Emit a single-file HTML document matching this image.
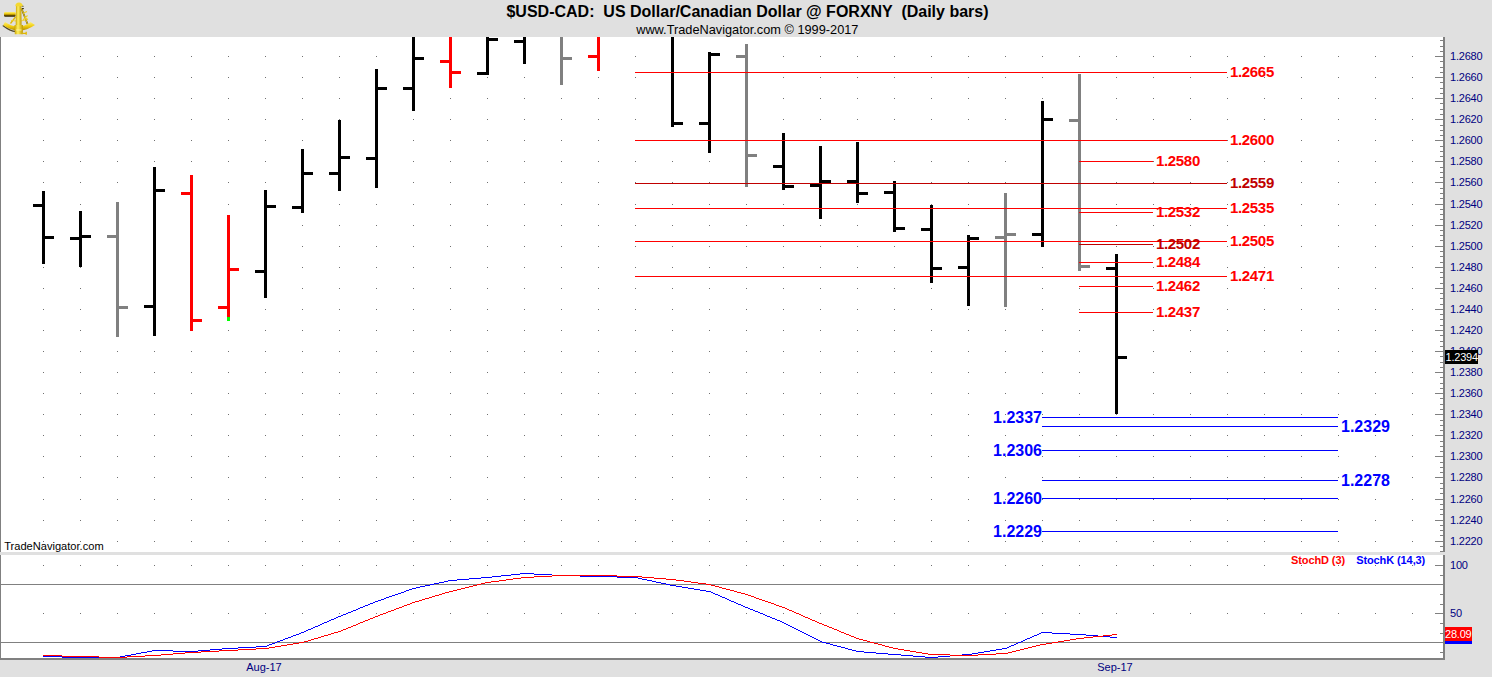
<!DOCTYPE html>
<html><head><meta charset="utf-8"><title>$USD-CAD Daily bars</title>
<style>
html,body{margin:0;padding:0;background:#e0e0e0;overflow:hidden;width:1492px;height:677px;}
svg{display:block;font-family:'Liberation Sans', sans-serif;}
</style></head>
<body>
<svg width="1492" height="677" viewBox="0 0 1492 677" shape-rendering="crispEdges">
<defs><clipPath id="mainclip"><rect x="0" y="37" width="1443" height="515"/></clipPath></defs>
<rect x="0" y="0" width="1492" height="677" fill="#e0e0e0"/>
<rect x="1" y="37" width="1442" height="515" fill="#ffffff"/>
<rect x="0" y="37" width="1" height="515" fill="#808080"/>
<rect x="1" y="555" width="1442" height="103" fill="#ffffff"/>
<rect x="0" y="555" width="1" height="105" fill="#808080"/>
<rect x="0" y="658" width="1445" height="2" fill="#808080"/>
<rect x="1443" y="37" width="2" height="515" fill="#808080"/>
<rect x="1443" y="555" width="2" height="105" fill="#808080"/>
<path d="M43 56h1v1h-1zM80 56h1v1h-1zM117 56h1v1h-1zM154 56h1v1h-1zM191 56h1v1h-1zM228 56h1v1h-1zM265 56h1v1h-1zM302 56h1v1h-1zM339 56h1v1h-1zM376 56h1v1h-1zM413 56h1v1h-1zM450 56h1v1h-1zM487 56h1v1h-1zM524 56h1v1h-1zM561 56h1v1h-1zM598 56h1v1h-1zM635 56h1v1h-1zM672 56h1v1h-1zM709 56h1v1h-1zM746 56h1v1h-1zM783 56h1v1h-1zM820 56h1v1h-1zM857 56h1v1h-1zM894 56h1v1h-1zM931 56h1v1h-1zM968 56h1v1h-1zM1005 56h1v1h-1zM1042 56h1v1h-1zM1079 56h1v1h-1zM1116 56h1v1h-1zM1153 56h1v1h-1zM1190 56h1v1h-1zM1227 56h1v1h-1zM1264 56h1v1h-1zM1301 56h1v1h-1zM1338 56h1v1h-1zM1375 56h1v1h-1zM1412 56h1v1h-1zM43 77h1v1h-1zM80 77h1v1h-1zM117 77h1v1h-1zM154 77h1v1h-1zM191 77h1v1h-1zM228 77h1v1h-1zM265 77h1v1h-1zM302 77h1v1h-1zM339 77h1v1h-1zM376 77h1v1h-1zM413 77h1v1h-1zM450 77h1v1h-1zM487 77h1v1h-1zM524 77h1v1h-1zM561 77h1v1h-1zM598 77h1v1h-1zM635 77h1v1h-1zM672 77h1v1h-1zM709 77h1v1h-1zM746 77h1v1h-1zM783 77h1v1h-1zM820 77h1v1h-1zM857 77h1v1h-1zM894 77h1v1h-1zM931 77h1v1h-1zM968 77h1v1h-1zM1005 77h1v1h-1zM1042 77h1v1h-1zM1079 77h1v1h-1zM1116 77h1v1h-1zM1153 77h1v1h-1zM1190 77h1v1h-1zM1227 77h1v1h-1zM1264 77h1v1h-1zM1301 77h1v1h-1zM1338 77h1v1h-1zM1375 77h1v1h-1zM1412 77h1v1h-1zM43 98h1v1h-1zM80 98h1v1h-1zM117 98h1v1h-1zM154 98h1v1h-1zM191 98h1v1h-1zM228 98h1v1h-1zM265 98h1v1h-1zM302 98h1v1h-1zM339 98h1v1h-1zM376 98h1v1h-1zM413 98h1v1h-1zM450 98h1v1h-1zM487 98h1v1h-1zM524 98h1v1h-1zM561 98h1v1h-1zM598 98h1v1h-1zM635 98h1v1h-1zM672 98h1v1h-1zM709 98h1v1h-1zM746 98h1v1h-1zM783 98h1v1h-1zM820 98h1v1h-1zM857 98h1v1h-1zM894 98h1v1h-1zM931 98h1v1h-1zM968 98h1v1h-1zM1005 98h1v1h-1zM1042 98h1v1h-1zM1079 98h1v1h-1zM1116 98h1v1h-1zM1153 98h1v1h-1zM1190 98h1v1h-1zM1227 98h1v1h-1zM1264 98h1v1h-1zM1301 98h1v1h-1zM1338 98h1v1h-1zM1375 98h1v1h-1zM1412 98h1v1h-1zM43 119h1v1h-1zM80 119h1v1h-1zM117 119h1v1h-1zM154 119h1v1h-1zM191 119h1v1h-1zM228 119h1v1h-1zM265 119h1v1h-1zM302 119h1v1h-1zM339 119h1v1h-1zM376 119h1v1h-1zM413 119h1v1h-1zM450 119h1v1h-1zM487 119h1v1h-1zM524 119h1v1h-1zM561 119h1v1h-1zM598 119h1v1h-1zM635 119h1v1h-1zM672 119h1v1h-1zM709 119h1v1h-1zM746 119h1v1h-1zM783 119h1v1h-1zM820 119h1v1h-1zM857 119h1v1h-1zM894 119h1v1h-1zM931 119h1v1h-1zM968 119h1v1h-1zM1005 119h1v1h-1zM1042 119h1v1h-1zM1079 119h1v1h-1zM1116 119h1v1h-1zM1153 119h1v1h-1zM1190 119h1v1h-1zM1227 119h1v1h-1zM1264 119h1v1h-1zM1301 119h1v1h-1zM1338 119h1v1h-1zM1375 119h1v1h-1zM1412 119h1v1h-1zM43 140h1v1h-1zM80 140h1v1h-1zM117 140h1v1h-1zM154 140h1v1h-1zM191 140h1v1h-1zM228 140h1v1h-1zM265 140h1v1h-1zM302 140h1v1h-1zM339 140h1v1h-1zM376 140h1v1h-1zM413 140h1v1h-1zM450 140h1v1h-1zM487 140h1v1h-1zM524 140h1v1h-1zM561 140h1v1h-1zM598 140h1v1h-1zM635 140h1v1h-1zM672 140h1v1h-1zM709 140h1v1h-1zM746 140h1v1h-1zM783 140h1v1h-1zM820 140h1v1h-1zM857 140h1v1h-1zM894 140h1v1h-1zM931 140h1v1h-1zM968 140h1v1h-1zM1005 140h1v1h-1zM1042 140h1v1h-1zM1079 140h1v1h-1zM1116 140h1v1h-1zM1153 140h1v1h-1zM1190 140h1v1h-1zM1227 140h1v1h-1zM1264 140h1v1h-1zM1301 140h1v1h-1zM1338 140h1v1h-1zM1375 140h1v1h-1zM1412 140h1v1h-1zM43 161h1v1h-1zM80 161h1v1h-1zM117 161h1v1h-1zM154 161h1v1h-1zM191 161h1v1h-1zM228 161h1v1h-1zM265 161h1v1h-1zM302 161h1v1h-1zM339 161h1v1h-1zM376 161h1v1h-1zM413 161h1v1h-1zM450 161h1v1h-1zM487 161h1v1h-1zM524 161h1v1h-1zM561 161h1v1h-1zM598 161h1v1h-1zM635 161h1v1h-1zM672 161h1v1h-1zM709 161h1v1h-1zM746 161h1v1h-1zM783 161h1v1h-1zM820 161h1v1h-1zM857 161h1v1h-1zM894 161h1v1h-1zM931 161h1v1h-1zM968 161h1v1h-1zM1005 161h1v1h-1zM1042 161h1v1h-1zM1079 161h1v1h-1zM1116 161h1v1h-1zM1153 161h1v1h-1zM1190 161h1v1h-1zM1227 161h1v1h-1zM1264 161h1v1h-1zM1301 161h1v1h-1zM1338 161h1v1h-1zM1375 161h1v1h-1zM1412 161h1v1h-1zM43 182h1v1h-1zM80 182h1v1h-1zM117 182h1v1h-1zM154 182h1v1h-1zM191 182h1v1h-1zM228 182h1v1h-1zM265 182h1v1h-1zM302 182h1v1h-1zM339 182h1v1h-1zM376 182h1v1h-1zM413 182h1v1h-1zM450 182h1v1h-1zM487 182h1v1h-1zM524 182h1v1h-1zM561 182h1v1h-1zM598 182h1v1h-1zM635 182h1v1h-1zM672 182h1v1h-1zM709 182h1v1h-1zM746 182h1v1h-1zM783 182h1v1h-1zM820 182h1v1h-1zM857 182h1v1h-1zM894 182h1v1h-1zM931 182h1v1h-1zM968 182h1v1h-1zM1005 182h1v1h-1zM1042 182h1v1h-1zM1079 182h1v1h-1zM1116 182h1v1h-1zM1153 182h1v1h-1zM1190 182h1v1h-1zM1227 182h1v1h-1zM1264 182h1v1h-1zM1301 182h1v1h-1zM1338 182h1v1h-1zM1375 182h1v1h-1zM1412 182h1v1h-1zM43 204h1v1h-1zM80 204h1v1h-1zM117 204h1v1h-1zM154 204h1v1h-1zM191 204h1v1h-1zM228 204h1v1h-1zM265 204h1v1h-1zM302 204h1v1h-1zM339 204h1v1h-1zM376 204h1v1h-1zM413 204h1v1h-1zM450 204h1v1h-1zM487 204h1v1h-1zM524 204h1v1h-1zM561 204h1v1h-1zM598 204h1v1h-1zM635 204h1v1h-1zM672 204h1v1h-1zM709 204h1v1h-1zM746 204h1v1h-1zM783 204h1v1h-1zM820 204h1v1h-1zM857 204h1v1h-1zM894 204h1v1h-1zM931 204h1v1h-1zM968 204h1v1h-1zM1005 204h1v1h-1zM1042 204h1v1h-1zM1079 204h1v1h-1zM1116 204h1v1h-1zM1153 204h1v1h-1zM1190 204h1v1h-1zM1227 204h1v1h-1zM1264 204h1v1h-1zM1301 204h1v1h-1zM1338 204h1v1h-1zM1375 204h1v1h-1zM1412 204h1v1h-1zM43 225h1v1h-1zM80 225h1v1h-1zM117 225h1v1h-1zM154 225h1v1h-1zM191 225h1v1h-1zM228 225h1v1h-1zM265 225h1v1h-1zM302 225h1v1h-1zM339 225h1v1h-1zM376 225h1v1h-1zM413 225h1v1h-1zM450 225h1v1h-1zM487 225h1v1h-1zM524 225h1v1h-1zM561 225h1v1h-1zM598 225h1v1h-1zM635 225h1v1h-1zM672 225h1v1h-1zM709 225h1v1h-1zM746 225h1v1h-1zM783 225h1v1h-1zM820 225h1v1h-1zM857 225h1v1h-1zM894 225h1v1h-1zM931 225h1v1h-1zM968 225h1v1h-1zM1005 225h1v1h-1zM1042 225h1v1h-1zM1079 225h1v1h-1zM1116 225h1v1h-1zM1153 225h1v1h-1zM1190 225h1v1h-1zM1227 225h1v1h-1zM1264 225h1v1h-1zM1301 225h1v1h-1zM1338 225h1v1h-1zM1375 225h1v1h-1zM1412 225h1v1h-1zM43 246h1v1h-1zM80 246h1v1h-1zM117 246h1v1h-1zM154 246h1v1h-1zM191 246h1v1h-1zM228 246h1v1h-1zM265 246h1v1h-1zM302 246h1v1h-1zM339 246h1v1h-1zM376 246h1v1h-1zM413 246h1v1h-1zM450 246h1v1h-1zM487 246h1v1h-1zM524 246h1v1h-1zM561 246h1v1h-1zM598 246h1v1h-1zM635 246h1v1h-1zM672 246h1v1h-1zM709 246h1v1h-1zM746 246h1v1h-1zM783 246h1v1h-1zM820 246h1v1h-1zM857 246h1v1h-1zM894 246h1v1h-1zM931 246h1v1h-1zM968 246h1v1h-1zM1005 246h1v1h-1zM1042 246h1v1h-1zM1079 246h1v1h-1zM1116 246h1v1h-1zM1153 246h1v1h-1zM1190 246h1v1h-1zM1227 246h1v1h-1zM1264 246h1v1h-1zM1301 246h1v1h-1zM1338 246h1v1h-1zM1375 246h1v1h-1zM1412 246h1v1h-1zM43 267h1v1h-1zM80 267h1v1h-1zM117 267h1v1h-1zM154 267h1v1h-1zM191 267h1v1h-1zM228 267h1v1h-1zM265 267h1v1h-1zM302 267h1v1h-1zM339 267h1v1h-1zM376 267h1v1h-1zM413 267h1v1h-1zM450 267h1v1h-1zM487 267h1v1h-1zM524 267h1v1h-1zM561 267h1v1h-1zM598 267h1v1h-1zM635 267h1v1h-1zM672 267h1v1h-1zM709 267h1v1h-1zM746 267h1v1h-1zM783 267h1v1h-1zM820 267h1v1h-1zM857 267h1v1h-1zM894 267h1v1h-1zM931 267h1v1h-1zM968 267h1v1h-1zM1005 267h1v1h-1zM1042 267h1v1h-1zM1079 267h1v1h-1zM1116 267h1v1h-1zM1153 267h1v1h-1zM1190 267h1v1h-1zM1227 267h1v1h-1zM1264 267h1v1h-1zM1301 267h1v1h-1zM1338 267h1v1h-1zM1375 267h1v1h-1zM1412 267h1v1h-1zM43 288h1v1h-1zM80 288h1v1h-1zM117 288h1v1h-1zM154 288h1v1h-1zM191 288h1v1h-1zM228 288h1v1h-1zM265 288h1v1h-1zM302 288h1v1h-1zM339 288h1v1h-1zM376 288h1v1h-1zM413 288h1v1h-1zM450 288h1v1h-1zM487 288h1v1h-1zM524 288h1v1h-1zM561 288h1v1h-1zM598 288h1v1h-1zM635 288h1v1h-1zM672 288h1v1h-1zM709 288h1v1h-1zM746 288h1v1h-1zM783 288h1v1h-1zM820 288h1v1h-1zM857 288h1v1h-1zM894 288h1v1h-1zM931 288h1v1h-1zM968 288h1v1h-1zM1005 288h1v1h-1zM1042 288h1v1h-1zM1079 288h1v1h-1zM1116 288h1v1h-1zM1153 288h1v1h-1zM1190 288h1v1h-1zM1227 288h1v1h-1zM1264 288h1v1h-1zM1301 288h1v1h-1zM1338 288h1v1h-1zM1375 288h1v1h-1zM1412 288h1v1h-1zM43 309h1v1h-1zM80 309h1v1h-1zM117 309h1v1h-1zM154 309h1v1h-1zM191 309h1v1h-1zM228 309h1v1h-1zM265 309h1v1h-1zM302 309h1v1h-1zM339 309h1v1h-1zM376 309h1v1h-1zM413 309h1v1h-1zM450 309h1v1h-1zM487 309h1v1h-1zM524 309h1v1h-1zM561 309h1v1h-1zM598 309h1v1h-1zM635 309h1v1h-1zM672 309h1v1h-1zM709 309h1v1h-1zM746 309h1v1h-1zM783 309h1v1h-1zM820 309h1v1h-1zM857 309h1v1h-1zM894 309h1v1h-1zM931 309h1v1h-1zM968 309h1v1h-1zM1005 309h1v1h-1zM1042 309h1v1h-1zM1079 309h1v1h-1zM1116 309h1v1h-1zM1153 309h1v1h-1zM1190 309h1v1h-1zM1227 309h1v1h-1zM1264 309h1v1h-1zM1301 309h1v1h-1zM1338 309h1v1h-1zM1375 309h1v1h-1zM1412 309h1v1h-1zM43 330h1v1h-1zM80 330h1v1h-1zM117 330h1v1h-1zM154 330h1v1h-1zM191 330h1v1h-1zM228 330h1v1h-1zM265 330h1v1h-1zM302 330h1v1h-1zM339 330h1v1h-1zM376 330h1v1h-1zM413 330h1v1h-1zM450 330h1v1h-1zM487 330h1v1h-1zM524 330h1v1h-1zM561 330h1v1h-1zM598 330h1v1h-1zM635 330h1v1h-1zM672 330h1v1h-1zM709 330h1v1h-1zM746 330h1v1h-1zM783 330h1v1h-1zM820 330h1v1h-1zM857 330h1v1h-1zM894 330h1v1h-1zM931 330h1v1h-1zM968 330h1v1h-1zM1005 330h1v1h-1zM1042 330h1v1h-1zM1079 330h1v1h-1zM1116 330h1v1h-1zM1153 330h1v1h-1zM1190 330h1v1h-1zM1227 330h1v1h-1zM1264 330h1v1h-1zM1301 330h1v1h-1zM1338 330h1v1h-1zM1375 330h1v1h-1zM1412 330h1v1h-1zM43 351h1v1h-1zM80 351h1v1h-1zM117 351h1v1h-1zM154 351h1v1h-1zM191 351h1v1h-1zM228 351h1v1h-1zM265 351h1v1h-1zM302 351h1v1h-1zM339 351h1v1h-1zM376 351h1v1h-1zM413 351h1v1h-1zM450 351h1v1h-1zM487 351h1v1h-1zM524 351h1v1h-1zM561 351h1v1h-1zM598 351h1v1h-1zM635 351h1v1h-1zM672 351h1v1h-1zM709 351h1v1h-1zM746 351h1v1h-1zM783 351h1v1h-1zM820 351h1v1h-1zM857 351h1v1h-1zM894 351h1v1h-1zM931 351h1v1h-1zM968 351h1v1h-1zM1005 351h1v1h-1zM1042 351h1v1h-1zM1079 351h1v1h-1zM1116 351h1v1h-1zM1153 351h1v1h-1zM1190 351h1v1h-1zM1227 351h1v1h-1zM1264 351h1v1h-1zM1301 351h1v1h-1zM1338 351h1v1h-1zM1375 351h1v1h-1zM1412 351h1v1h-1zM43 372h1v1h-1zM80 372h1v1h-1zM117 372h1v1h-1zM154 372h1v1h-1zM191 372h1v1h-1zM228 372h1v1h-1zM265 372h1v1h-1zM302 372h1v1h-1zM339 372h1v1h-1zM376 372h1v1h-1zM413 372h1v1h-1zM450 372h1v1h-1zM487 372h1v1h-1zM524 372h1v1h-1zM561 372h1v1h-1zM598 372h1v1h-1zM635 372h1v1h-1zM672 372h1v1h-1zM709 372h1v1h-1zM746 372h1v1h-1zM783 372h1v1h-1zM820 372h1v1h-1zM857 372h1v1h-1zM894 372h1v1h-1zM931 372h1v1h-1zM968 372h1v1h-1zM1005 372h1v1h-1zM1042 372h1v1h-1zM1079 372h1v1h-1zM1116 372h1v1h-1zM1153 372h1v1h-1zM1190 372h1v1h-1zM1227 372h1v1h-1zM1264 372h1v1h-1zM1301 372h1v1h-1zM1338 372h1v1h-1zM1375 372h1v1h-1zM1412 372h1v1h-1zM43 393h1v1h-1zM80 393h1v1h-1zM117 393h1v1h-1zM154 393h1v1h-1zM191 393h1v1h-1zM228 393h1v1h-1zM265 393h1v1h-1zM302 393h1v1h-1zM339 393h1v1h-1zM376 393h1v1h-1zM413 393h1v1h-1zM450 393h1v1h-1zM487 393h1v1h-1zM524 393h1v1h-1zM561 393h1v1h-1zM598 393h1v1h-1zM635 393h1v1h-1zM672 393h1v1h-1zM709 393h1v1h-1zM746 393h1v1h-1zM783 393h1v1h-1zM820 393h1v1h-1zM857 393h1v1h-1zM894 393h1v1h-1zM931 393h1v1h-1zM968 393h1v1h-1zM1005 393h1v1h-1zM1042 393h1v1h-1zM1079 393h1v1h-1zM1116 393h1v1h-1zM1153 393h1v1h-1zM1190 393h1v1h-1zM1227 393h1v1h-1zM1264 393h1v1h-1zM1301 393h1v1h-1zM1338 393h1v1h-1zM1375 393h1v1h-1zM1412 393h1v1h-1zM43 414h1v1h-1zM80 414h1v1h-1zM117 414h1v1h-1zM154 414h1v1h-1zM191 414h1v1h-1zM228 414h1v1h-1zM265 414h1v1h-1zM302 414h1v1h-1zM339 414h1v1h-1zM376 414h1v1h-1zM413 414h1v1h-1zM450 414h1v1h-1zM487 414h1v1h-1zM524 414h1v1h-1zM561 414h1v1h-1zM598 414h1v1h-1zM635 414h1v1h-1zM672 414h1v1h-1zM709 414h1v1h-1zM746 414h1v1h-1zM783 414h1v1h-1zM820 414h1v1h-1zM857 414h1v1h-1zM894 414h1v1h-1zM931 414h1v1h-1zM968 414h1v1h-1zM1005 414h1v1h-1zM1042 414h1v1h-1zM1079 414h1v1h-1zM1116 414h1v1h-1zM1153 414h1v1h-1zM1190 414h1v1h-1zM1227 414h1v1h-1zM1264 414h1v1h-1zM1301 414h1v1h-1zM1338 414h1v1h-1zM1375 414h1v1h-1zM1412 414h1v1h-1zM43 435h1v1h-1zM80 435h1v1h-1zM117 435h1v1h-1zM154 435h1v1h-1zM191 435h1v1h-1zM228 435h1v1h-1zM265 435h1v1h-1zM302 435h1v1h-1zM339 435h1v1h-1zM376 435h1v1h-1zM413 435h1v1h-1zM450 435h1v1h-1zM487 435h1v1h-1zM524 435h1v1h-1zM561 435h1v1h-1zM598 435h1v1h-1zM635 435h1v1h-1zM672 435h1v1h-1zM709 435h1v1h-1zM746 435h1v1h-1zM783 435h1v1h-1zM820 435h1v1h-1zM857 435h1v1h-1zM894 435h1v1h-1zM931 435h1v1h-1zM968 435h1v1h-1zM1005 435h1v1h-1zM1042 435h1v1h-1zM1079 435h1v1h-1zM1116 435h1v1h-1zM1153 435h1v1h-1zM1190 435h1v1h-1zM1227 435h1v1h-1zM1264 435h1v1h-1zM1301 435h1v1h-1zM1338 435h1v1h-1zM1375 435h1v1h-1zM1412 435h1v1h-1zM43 456h1v1h-1zM80 456h1v1h-1zM117 456h1v1h-1zM154 456h1v1h-1zM191 456h1v1h-1zM228 456h1v1h-1zM265 456h1v1h-1zM302 456h1v1h-1zM339 456h1v1h-1zM376 456h1v1h-1zM413 456h1v1h-1zM450 456h1v1h-1zM487 456h1v1h-1zM524 456h1v1h-1zM561 456h1v1h-1zM598 456h1v1h-1zM635 456h1v1h-1zM672 456h1v1h-1zM709 456h1v1h-1zM746 456h1v1h-1zM783 456h1v1h-1zM820 456h1v1h-1zM857 456h1v1h-1zM894 456h1v1h-1zM931 456h1v1h-1zM968 456h1v1h-1zM1005 456h1v1h-1zM1042 456h1v1h-1zM1079 456h1v1h-1zM1116 456h1v1h-1zM1153 456h1v1h-1zM1190 456h1v1h-1zM1227 456h1v1h-1zM1264 456h1v1h-1zM1301 456h1v1h-1zM1338 456h1v1h-1zM1375 456h1v1h-1zM1412 456h1v1h-1zM43 477h1v1h-1zM80 477h1v1h-1zM117 477h1v1h-1zM154 477h1v1h-1zM191 477h1v1h-1zM228 477h1v1h-1zM265 477h1v1h-1zM302 477h1v1h-1zM339 477h1v1h-1zM376 477h1v1h-1zM413 477h1v1h-1zM450 477h1v1h-1zM487 477h1v1h-1zM524 477h1v1h-1zM561 477h1v1h-1zM598 477h1v1h-1zM635 477h1v1h-1zM672 477h1v1h-1zM709 477h1v1h-1zM746 477h1v1h-1zM783 477h1v1h-1zM820 477h1v1h-1zM857 477h1v1h-1zM894 477h1v1h-1zM931 477h1v1h-1zM968 477h1v1h-1zM1005 477h1v1h-1zM1042 477h1v1h-1zM1079 477h1v1h-1zM1116 477h1v1h-1zM1153 477h1v1h-1zM1190 477h1v1h-1zM1227 477h1v1h-1zM1264 477h1v1h-1zM1301 477h1v1h-1zM1338 477h1v1h-1zM1375 477h1v1h-1zM1412 477h1v1h-1zM43 499h1v1h-1zM80 499h1v1h-1zM117 499h1v1h-1zM154 499h1v1h-1zM191 499h1v1h-1zM228 499h1v1h-1zM265 499h1v1h-1zM302 499h1v1h-1zM339 499h1v1h-1zM376 499h1v1h-1zM413 499h1v1h-1zM450 499h1v1h-1zM487 499h1v1h-1zM524 499h1v1h-1zM561 499h1v1h-1zM598 499h1v1h-1zM635 499h1v1h-1zM672 499h1v1h-1zM709 499h1v1h-1zM746 499h1v1h-1zM783 499h1v1h-1zM820 499h1v1h-1zM857 499h1v1h-1zM894 499h1v1h-1zM931 499h1v1h-1zM968 499h1v1h-1zM1005 499h1v1h-1zM1042 499h1v1h-1zM1079 499h1v1h-1zM1116 499h1v1h-1zM1153 499h1v1h-1zM1190 499h1v1h-1zM1227 499h1v1h-1zM1264 499h1v1h-1zM1301 499h1v1h-1zM1338 499h1v1h-1zM1375 499h1v1h-1zM1412 499h1v1h-1zM43 520h1v1h-1zM80 520h1v1h-1zM117 520h1v1h-1zM154 520h1v1h-1zM191 520h1v1h-1zM228 520h1v1h-1zM265 520h1v1h-1zM302 520h1v1h-1zM339 520h1v1h-1zM376 520h1v1h-1zM413 520h1v1h-1zM450 520h1v1h-1zM487 520h1v1h-1zM524 520h1v1h-1zM561 520h1v1h-1zM598 520h1v1h-1zM635 520h1v1h-1zM672 520h1v1h-1zM709 520h1v1h-1zM746 520h1v1h-1zM783 520h1v1h-1zM820 520h1v1h-1zM857 520h1v1h-1zM894 520h1v1h-1zM931 520h1v1h-1zM968 520h1v1h-1zM1005 520h1v1h-1zM1042 520h1v1h-1zM1079 520h1v1h-1zM1116 520h1v1h-1zM1153 520h1v1h-1zM1190 520h1v1h-1zM1227 520h1v1h-1zM1264 520h1v1h-1zM1301 520h1v1h-1zM1338 520h1v1h-1zM1375 520h1v1h-1zM1412 520h1v1h-1zM43 541h1v1h-1zM80 541h1v1h-1zM117 541h1v1h-1zM154 541h1v1h-1zM191 541h1v1h-1zM228 541h1v1h-1zM265 541h1v1h-1zM302 541h1v1h-1zM339 541h1v1h-1zM376 541h1v1h-1zM413 541h1v1h-1zM450 541h1v1h-1zM487 541h1v1h-1zM524 541h1v1h-1zM561 541h1v1h-1zM598 541h1v1h-1zM635 541h1v1h-1zM672 541h1v1h-1zM709 541h1v1h-1zM746 541h1v1h-1zM783 541h1v1h-1zM820 541h1v1h-1zM857 541h1v1h-1zM894 541h1v1h-1zM931 541h1v1h-1zM968 541h1v1h-1zM1005 541h1v1h-1zM1042 541h1v1h-1zM1079 541h1v1h-1zM1116 541h1v1h-1zM1153 541h1v1h-1zM1190 541h1v1h-1zM1227 541h1v1h-1zM1264 541h1v1h-1zM1301 541h1v1h-1zM1338 541h1v1h-1zM1375 541h1v1h-1zM1412 541h1v1h-1z" fill="#707070"/>
<path d="M1440 40h3v1h-3zM1440 46h3v1h-3zM1440 51h3v1h-3zM1435 56h8v1h-8zM1440 61h3v1h-3zM1440 67h3v1h-3zM1440 72h3v1h-3zM1435 77h8v1h-8zM1440 82h3v1h-3zM1440 88h3v1h-3zM1440 93h3v1h-3zM1435 98h8v1h-8zM1440 103h3v1h-3zM1440 109h3v1h-3zM1440 114h3v1h-3zM1435 119h8v1h-8zM1440 125h3v1h-3zM1440 130h3v1h-3zM1440 135h3v1h-3zM1435 140h8v1h-8zM1440 146h3v1h-3zM1440 151h3v1h-3zM1440 156h3v1h-3zM1435 161h8v1h-8zM1440 167h3v1h-3zM1440 172h3v1h-3zM1440 177h3v1h-3zM1435 182h8v1h-8zM1440 188h3v1h-3zM1440 193h3v1h-3zM1440 198h3v1h-3zM1435 204h8v1h-8zM1440 209h3v1h-3zM1440 214h3v1h-3zM1440 219h3v1h-3zM1435 225h8v1h-8zM1440 230h3v1h-3zM1440 235h3v1h-3zM1440 240h3v1h-3zM1435 246h8v1h-8zM1440 251h3v1h-3zM1440 256h3v1h-3zM1440 262h3v1h-3zM1435 267h8v1h-8zM1440 272h3v1h-3zM1440 277h3v1h-3zM1440 283h3v1h-3zM1435 288h8v1h-8zM1440 293h3v1h-3zM1440 298h3v1h-3zM1440 304h3v1h-3zM1435 309h8v1h-8zM1440 314h3v1h-3zM1440 319h3v1h-3zM1440 325h3v1h-3zM1435 330h8v1h-8zM1440 335h3v1h-3zM1440 341h3v1h-3zM1440 346h3v1h-3zM1435 351h8v1h-8zM1440 356h3v1h-3zM1440 362h3v1h-3zM1440 367h3v1h-3zM1435 372h8v1h-8zM1440 377h3v1h-3zM1440 383h3v1h-3zM1440 388h3v1h-3zM1435 393h8v1h-8zM1440 398h3v1h-3zM1440 404h3v1h-3zM1440 409h3v1h-3zM1435 414h8v1h-8zM1440 420h3v1h-3zM1440 425h3v1h-3zM1440 430h3v1h-3zM1435 435h8v1h-8zM1440 441h3v1h-3zM1440 446h3v1h-3zM1440 451h3v1h-3zM1435 456h8v1h-8zM1440 462h3v1h-3zM1440 467h3v1h-3zM1440 472h3v1h-3zM1435 477h8v1h-8zM1440 483h3v1h-3zM1440 488h3v1h-3zM1440 493h3v1h-3zM1435 499h8v1h-8zM1440 504h3v1h-3zM1440 509h3v1h-3zM1440 514h3v1h-3zM1435 520h8v1h-8zM1440 525h3v1h-3zM1440 530h3v1h-3zM1440 535h3v1h-3zM1435 541h8v1h-8zM1440 546h3v1h-3zM1440 551h3v1h-3z" fill="#808080"/>
<text x="1450" y="60" font-size="11" fill="#000080" font-weight="normal" text-anchor="start" letter-spacing="-0.2">1.2680</text>
<text x="1450" y="81" font-size="11" fill="#000080" font-weight="normal" text-anchor="start" letter-spacing="-0.2">1.2660</text>
<text x="1450" y="102" font-size="11" fill="#000080" font-weight="normal" text-anchor="start" letter-spacing="-0.2">1.2640</text>
<text x="1450" y="123" font-size="11" fill="#000080" font-weight="normal" text-anchor="start" letter-spacing="-0.2">1.2620</text>
<text x="1450" y="144" font-size="11" fill="#000080" font-weight="normal" text-anchor="start" letter-spacing="-0.2">1.2600</text>
<text x="1450" y="165" font-size="11" fill="#000080" font-weight="normal" text-anchor="start" letter-spacing="-0.2">1.2580</text>
<text x="1450" y="186" font-size="11" fill="#000080" font-weight="normal" text-anchor="start" letter-spacing="-0.2">1.2560</text>
<text x="1450" y="208" font-size="11" fill="#000080" font-weight="normal" text-anchor="start" letter-spacing="-0.2">1.2540</text>
<text x="1450" y="229" font-size="11" fill="#000080" font-weight="normal" text-anchor="start" letter-spacing="-0.2">1.2520</text>
<text x="1450" y="250" font-size="11" fill="#000080" font-weight="normal" text-anchor="start" letter-spacing="-0.2">1.2500</text>
<text x="1450" y="271" font-size="11" fill="#000080" font-weight="normal" text-anchor="start" letter-spacing="-0.2">1.2480</text>
<text x="1450" y="292" font-size="11" fill="#000080" font-weight="normal" text-anchor="start" letter-spacing="-0.2">1.2460</text>
<text x="1450" y="313" font-size="11" fill="#000080" font-weight="normal" text-anchor="start" letter-spacing="-0.2">1.2440</text>
<text x="1450" y="334" font-size="11" fill="#000080" font-weight="normal" text-anchor="start" letter-spacing="-0.2">1.2420</text>
<text x="1450" y="355" font-size="11" fill="#000080" font-weight="normal" text-anchor="start" letter-spacing="-0.2">1.2400</text>
<text x="1450" y="376" font-size="11" fill="#000080" font-weight="normal" text-anchor="start" letter-spacing="-0.2">1.2380</text>
<text x="1450" y="397" font-size="11" fill="#000080" font-weight="normal" text-anchor="start" letter-spacing="-0.2">1.2360</text>
<text x="1450" y="418" font-size="11" fill="#000080" font-weight="normal" text-anchor="start" letter-spacing="-0.2">1.2340</text>
<text x="1450" y="439" font-size="11" fill="#000080" font-weight="normal" text-anchor="start" letter-spacing="-0.2">1.2320</text>
<text x="1450" y="460" font-size="11" fill="#000080" font-weight="normal" text-anchor="start" letter-spacing="-0.2">1.2300</text>
<text x="1450" y="481" font-size="11" fill="#000080" font-weight="normal" text-anchor="start" letter-spacing="-0.2">1.2280</text>
<text x="1450" y="503" font-size="11" fill="#000080" font-weight="normal" text-anchor="start" letter-spacing="-0.2">1.2260</text>
<text x="1450" y="524" font-size="11" fill="#000080" font-weight="normal" text-anchor="start" letter-spacing="-0.2">1.2240</text>
<text x="1450" y="545" font-size="11" fill="#000080" font-weight="normal" text-anchor="start" letter-spacing="-0.2">1.2220</text>
<rect x="1" y="584" width="1442" height="1" fill="#808080"/>
<rect x="1" y="642" width="1442" height="1" fill="#808080"/>
<path d="M43 565h1v1h-1zM80 565h1v1h-1zM117 565h1v1h-1zM154 565h1v1h-1zM191 565h1v1h-1zM228 565h1v1h-1zM265 565h1v1h-1zM302 565h1v1h-1zM339 565h1v1h-1zM376 565h1v1h-1zM413 565h1v1h-1zM450 565h1v1h-1zM487 565h1v1h-1zM524 565h1v1h-1zM561 565h1v1h-1zM598 565h1v1h-1zM635 565h1v1h-1zM672 565h1v1h-1zM709 565h1v1h-1zM746 565h1v1h-1zM783 565h1v1h-1zM820 565h1v1h-1zM857 565h1v1h-1zM894 565h1v1h-1zM931 565h1v1h-1zM968 565h1v1h-1zM1005 565h1v1h-1zM1042 565h1v1h-1zM1079 565h1v1h-1zM1116 565h1v1h-1zM1153 565h1v1h-1zM1190 565h1v1h-1zM1227 565h1v1h-1zM1264 565h1v1h-1zM1301 565h1v1h-1zM1338 565h1v1h-1zM1375 565h1v1h-1zM1412 565h1v1h-1zM43 613h1v1h-1zM80 613h1v1h-1zM117 613h1v1h-1zM154 613h1v1h-1zM191 613h1v1h-1zM228 613h1v1h-1zM265 613h1v1h-1zM302 613h1v1h-1zM339 613h1v1h-1zM376 613h1v1h-1zM413 613h1v1h-1zM450 613h1v1h-1zM487 613h1v1h-1zM524 613h1v1h-1zM561 613h1v1h-1zM598 613h1v1h-1zM635 613h1v1h-1zM672 613h1v1h-1zM709 613h1v1h-1zM746 613h1v1h-1zM783 613h1v1h-1zM820 613h1v1h-1zM857 613h1v1h-1zM894 613h1v1h-1zM931 613h1v1h-1zM968 613h1v1h-1zM1005 613h1v1h-1zM1042 613h1v1h-1zM1079 613h1v1h-1zM1116 613h1v1h-1zM1153 613h1v1h-1zM1190 613h1v1h-1zM1227 613h1v1h-1zM1264 613h1v1h-1zM1301 613h1v1h-1zM1338 613h1v1h-1zM1375 613h1v1h-1zM1412 613h1v1h-1z" fill="#707070"/>
<path d="M1435 565h8v1h-8zM1440 575h3v1h-3zM1440 594h3v1h-3zM1440 604h3v1h-3zM1435 613h8v1h-8zM1440 623h3v1h-3zM1440 633h3v1h-3zM1440 652h3v1h-3z" fill="#808080"/>
<text x="1450" y="569" font-size="11" fill="#000080" font-weight="normal" text-anchor="start" letter-spacing="-0.2">100</text>
<text x="1450" y="617" font-size="11" fill="#000080" font-weight="normal" text-anchor="start" letter-spacing="-0.2">50</text>
<path d="M520 573h14v1h-14zM511 574h9v1h-9zM534 574h18v1h-18zM501 575h10v1h-10zM552 575h28v1h-28zM492 576h9v1h-9zM580 576h37v1h-37zM481 577h11v1h-11zM617 577h21v1h-21zM469 578h12v1h-12zM638 578h4v1h-4zM457 579h12v1h-12zM642 579h5v1h-5zM448 580h9v1h-9zM647 580h5v1h-5zM444 581h4v1h-4zM652 581h4v1h-4zM439 582h5v1h-5zM656 582h5v1h-5zM434 583h5v1h-5zM661 583h5v1h-5zM430 584h4v1h-4zM666 584h4v1h-4zM425 585h5v1h-5zM670 585h6v1h-6zM420 586h5v1h-5zM676 586h6v1h-6zM416 587h4v1h-4zM682 587h6v1h-6zM412 588h4v1h-4zM688 588h6v1h-6zM409 589h3v1h-3zM694 589h6v1h-6zM406 590h3v1h-3zM700 590h6v1h-6zM404 591h2v1h-2zM706 591h5v1h-5zM401 592h3v1h-3zM711 592h2v1h-2zM398 593h3v1h-3zM713 593h2v1h-2zM395 594h3v1h-3zM715 594h3v1h-3zM392 595h3v1h-3zM718 595h2v1h-2zM389 596h3v1h-3zM720 596h2v1h-2zM386 597h3v1h-3zM722 597h3v1h-3zM384 598h2v1h-2zM725 598h2v1h-2zM381 599h3v1h-3zM727 599h2v1h-2zM378 600h3v1h-3zM729 600h2v1h-2zM375 601h3v1h-3zM731 601h3v1h-3zM373 602h2v1h-2zM734 602h2v1h-2zM370 603h3v1h-3zM736 603h2v1h-2zM368 604h2v1h-2zM738 604h3v1h-3zM365 605h3v1h-3zM741 605h2v1h-2zM363 606h2v1h-2zM743 606h2v1h-2zM360 607h3v1h-3zM745 607h3v1h-3zM358 608h2v1h-2zM748 608h2v1h-2zM356 609h2v1h-2zM750 609h3v1h-3zM353 610h3v1h-3zM753 610h2v1h-2zM351 611h2v1h-2zM755 611h3v1h-3zM348 612h3v1h-3zM758 612h2v1h-2zM346 613h2v1h-2zM760 613h3v1h-3zM343 614h3v1h-3zM763 614h2v1h-2zM341 615h2v1h-2zM765 615h2v1h-2zM338 616h3v1h-3zM767 616h3v1h-3zM336 617h2v1h-2zM770 617h2v1h-2zM334 618h2v1h-2zM772 618h3v1h-3zM331 619h3v1h-3zM775 619h2v1h-2zM329 620h2v1h-2zM777 620h3v1h-3zM327 621h2v1h-2zM780 621h2v1h-2zM324 622h3v1h-3zM782 622h2v1h-2zM322 623h2v1h-2zM784 623h2v1h-2zM320 624h2v1h-2zM786 624h2v1h-2zM318 625h2v1h-2zM788 625h2v1h-2zM315 626h3v1h-3zM790 626h2v1h-2zM313 627h2v1h-2zM792 627h2v1h-2zM311 628h2v1h-2zM794 628h2v1h-2zM308 629h3v1h-3zM796 629h2v1h-2zM306 630h2v1h-2zM798 630h2v1h-2zM304 631h2v1h-2zM800 631h2v1h-2zM301 632h3v1h-3zM802 632h2v1h-2zM1041 632h11v1h-11zM299 633h2v1h-2zM804 633h2v1h-2zM1039 633h2v1h-2zM1052 633h18v1h-18zM296 634h3v1h-3zM806 634h2v1h-2zM1037 634h2v1h-2zM1070 634h16v1h-16zM293 635h3v1h-3zM808 635h2v1h-2zM1034 635h3v1h-3zM1086 635h12v1h-12zM291 636h2v1h-2zM810 636h2v1h-2zM1032 636h2v1h-2zM1098 636h12v1h-12zM288 637h3v1h-3zM812 637h2v1h-2zM1030 637h2v1h-2zM1110 637h7v1h-7zM285 638h3v1h-3zM814 638h2v1h-2zM1027 638h3v1h-3zM283 639h2v1h-2zM816 639h2v1h-2zM1025 639h2v1h-2zM280 640h3v1h-3zM818 640h2v1h-2zM1023 640h2v1h-2zM277 641h3v1h-3zM820 641h2v1h-2zM1021 641h2v1h-2zM275 642h2v1h-2zM822 642h4v1h-4zM1018 642h3v1h-3zM272 643h3v1h-3zM826 643h4v1h-4zM1016 643h2v1h-2zM269 644h3v1h-3zM830 644h3v1h-3zM1014 644h2v1h-2zM267 645h2v1h-2zM833 645h4v1h-4zM1011 645h3v1h-3zM256 646h11v1h-11zM837 646h4v1h-4zM1009 646h2v1h-2zM238 647h18v1h-18zM841 647h4v1h-4zM1007 647h2v1h-2zM222 648h16v1h-16zM845 648h3v1h-3zM1002 648h5v1h-5zM210 649h12v1h-12zM848 649h4v1h-4zM996 649h6v1h-6zM152 650h21v1h-21zM198 650h12v1h-12zM852 650h4v1h-4zM990 650h6v1h-6zM147 651h5v1h-5zM173 651h25v1h-25zM856 651h8v1h-8zM984 651h6v1h-6zM141 652h6v1h-6zM864 652h12v1h-12zM978 652h6v1h-6zM136 653h5v1h-5zM876 653h12v1h-12zM972 653h6v1h-6zM131 654h5v1h-5zM888 654h13v1h-13zM962 654h10v1h-10zM125 655h6v1h-6zM901 655h12v1h-12zM950 655h12v1h-12zM43 656h19v1h-19zM120 656h5v1h-5zM913 656h12v1h-12zM938 656h12v1h-12zM62 657h58v1h-58zM925 657h13v1h-13z" fill="#0000ff"/>
<path d="M552 575h65v1h-65zM534 576h18v1h-18zM617 576h25v1h-25zM521 577h13v1h-13zM642 577h12v1h-12zM513 578h8v1h-8zM654 578h12v1h-12zM506 579h7v1h-7zM666 579h10v1h-10zM499 580h7v1h-7zM676 580h8v1h-8zM491 581h8v1h-8zM684 581h7v1h-7zM485 582h6v1h-6zM691 582h7v1h-7zM481 583h4v1h-4zM698 583h8v1h-8zM477 584h4v1h-4zM706 584h5v1h-5zM473 585h4v1h-4zM711 585h4v1h-4zM469 586h4v1h-4zM715 586h4v1h-4zM465 587h4v1h-4zM719 587h3v1h-3zM461 588h4v1h-4zM722 588h4v1h-4zM457 589h4v1h-4zM726 589h4v1h-4zM453 590h4v1h-4zM730 590h4v1h-4zM449 591h4v1h-4zM734 591h3v1h-3zM445 592h4v1h-4zM737 592h4v1h-4zM442 593h3v1h-3zM741 593h4v1h-4zM439 594h3v1h-3zM745 594h3v1h-3zM435 595h4v1h-4zM748 595h3v1h-3zM432 596h3v1h-3zM751 596h3v1h-3zM429 597h3v1h-3zM754 597h2v1h-2zM425 598h4v1h-4zM756 598h3v1h-3zM422 599h3v1h-3zM759 599h3v1h-3zM419 600h3v1h-3zM762 600h3v1h-3zM415 601h4v1h-4zM765 601h3v1h-3zM412 602h3v1h-3zM768 602h3v1h-3zM410 603h2v1h-2zM771 603h3v1h-3zM407 604h3v1h-3zM774 604h2v1h-2zM404 605h3v1h-3zM776 605h3v1h-3zM402 606h2v1h-2zM779 606h3v1h-3zM399 607h3v1h-3zM782 607h3v1h-3zM396 608h3v1h-3zM785 608h2v1h-2zM394 609h2v1h-2zM787 609h2v1h-2zM391 610h3v1h-3zM789 610h3v1h-3zM388 611h3v1h-3zM792 611h2v1h-2zM386 612h2v1h-2zM794 612h2v1h-2zM383 613h3v1h-3zM796 613h3v1h-3zM380 614h3v1h-3zM799 614h2v1h-2zM378 615h2v1h-2zM801 615h2v1h-2zM375 616h3v1h-3zM803 616h2v1h-2zM373 617h2v1h-2zM805 617h3v1h-3zM370 618h3v1h-3zM808 618h2v1h-2zM368 619h2v1h-2zM810 619h2v1h-2zM365 620h3v1h-3zM812 620h3v1h-3zM363 621h2v1h-2zM815 621h2v1h-2zM360 622h3v1h-3zM817 622h2v1h-2zM358 623h2v1h-2zM819 623h3v1h-3zM356 624h2v1h-2zM822 624h2v1h-2zM353 625h3v1h-3zM824 625h3v1h-3zM351 626h2v1h-2zM827 626h2v1h-2zM348 627h3v1h-3zM829 627h3v1h-3zM346 628h2v1h-2zM832 628h2v1h-2zM343 629h3v1h-3zM834 629h3v1h-3zM341 630h2v1h-2zM837 630h2v1h-2zM338 631h3v1h-3zM839 631h2v1h-2zM334 632h4v1h-4zM841 632h3v1h-3zM331 633h3v1h-3zM844 633h2v1h-2zM328 634h3v1h-3zM846 634h3v1h-3zM1112 634h5v1h-5zM324 635h4v1h-4zM849 635h2v1h-2zM1103 635h9v1h-9zM321 636h3v1h-3zM851 636h3v1h-3zM1093 636h10v1h-10zM318 637h3v1h-3zM854 637h2v1h-2zM1084 637h9v1h-9zM314 638h4v1h-4zM856 638h3v1h-3zM1076 638h8v1h-8zM311 639h3v1h-3zM859 639h4v1h-4zM1070 639h6v1h-6zM308 640h3v1h-3zM863 640h4v1h-4zM1064 640h6v1h-6zM304 641h4v1h-4zM867 641h3v1h-3zM1058 641h6v1h-6zM299 642h5v1h-5zM870 642h4v1h-4zM1052 642h6v1h-6zM293 643h6v1h-6zM874 643h4v1h-4zM1046 643h6v1h-6zM287 644h6v1h-6zM878 644h4v1h-4zM1040 644h6v1h-6zM281 645h6v1h-6zM882 645h3v1h-3zM1036 645h4v1h-4zM275 646h6v1h-6zM885 646h4v1h-4zM1032 646h4v1h-4zM269 647h6v1h-6zM889 647h4v1h-4zM1028 647h4v1h-4zM256 648h13v1h-13zM893 648h5v1h-5zM1024 648h4v1h-4zM238 649h18v1h-18zM898 649h6v1h-6zM1020 649h4v1h-4zM219 650h19v1h-19zM904 650h6v1h-6zM1016 650h4v1h-4zM201 651h18v1h-18zM910 651h6v1h-6zM1012 651h4v1h-4zM185 652h16v1h-16zM916 652h6v1h-6zM1008 652h4v1h-4zM173 653h12v1h-12zM922 653h6v1h-6zM996 653h12v1h-12zM161 654h12v1h-12zM928 654h22v1h-22zM978 654h18v1h-18zM43 655h19v1h-19zM145 655h16v1h-16zM950 655h28v1h-28zM62 656h37v1h-37zM127 656h18v1h-18zM99 657h28v1h-28z" fill="#ff0000"/>
<text x="1291" y="564" font-size="11" fill="#ff0000" font-weight="bold" text-anchor="start" letter-spacing="-0.1">StochD (3)</text>
<text x="1356.2" y="564" font-size="11" fill="#0000ff" font-weight="bold" text-anchor="start" letter-spacing="-0.1">StochK (14,3)</text>
<rect x="1445" y="630" width="27" height="14" fill="#0000ff"/>
<rect x="1445" y="627" width="27" height="14" fill="#ff0000"/>
<text x="1445" y="638" font-size="11" fill="#ffffff" font-weight="normal" text-anchor="start" letter-spacing="-0.2">28.09</text>
<g clip-path="url(#mainclip)">
<path d="M42 191h3v73h-3zM33 204h9v3h-9zM45 236h9v3h-9z" fill="#000"/>
<path d="M79 211h3v56h-3zM70 237h9v3h-9zM82 235h9v3h-9z" fill="#000"/>
<path d="M116 202h3v135h-3zM107 235h9v3h-9zM119 306h9v3h-9z" fill="#808080"/>
<path d="M153 167h3v169h-3zM144 305h9v3h-9zM156 189h9v3h-9z" fill="#000"/>
<path d="M190 175h3v156h-3zM181 192h9v3h-9zM193 319h9v3h-9z" fill="#f00"/>
<path d="M227 215h3v102h-3zM218 306h9v3h-9zM230 268h9v3h-9z" fill="#f00"/>
<path d="M264 190h3v108h-3zM255 270h9v3h-9zM267 205h9v3h-9z" fill="#000"/>
<path d="M301 149h3v64h-3zM292 206h9v3h-9zM304 172h9v3h-9z" fill="#000"/>
<path d="M338 120h3v71h-3zM329 172h9v3h-9zM341 156h9v3h-9z" fill="#000"/>
<path d="M375 69h3v119h-3zM366 157h9v3h-9zM378 87h9v3h-9z" fill="#000"/>
<path d="M412 30h3v81h-3zM403 87h9v3h-9zM415 57h9v3h-9z" fill="#000"/>
<path d="M449 30h3v58h-3zM440 60h9v3h-9zM452 71h9v3h-9z" fill="#f00"/>
<path d="M486 30h3v45h-3zM477 72h9v3h-9zM489 38h9v3h-9z" fill="#000"/>
<path d="M523 30h3v34h-3zM514 40h9v3h-9z" fill="#000"/>
<path d="M560 30h3v55h-3zM563 57h9v3h-9z" fill="#808080"/>
<path d="M597 30h3v41h-3zM588 55h9v3h-9z" fill="#f00"/>
<path d="M671 30h3v97h-3zM674 122h9v3h-9z" fill="#000"/>
<path d="M708 52h3v101h-3zM699 122h9v3h-9zM711 53h9v3h-9z" fill="#000"/>
<path d="M745 44h3v143h-3zM736 55h9v3h-9zM748 154h9v3h-9z" fill="#808080"/>
<path d="M782 133h3v57h-3zM773 165h9v3h-9zM785 185h9v3h-9z" fill="#000"/>
<path d="M819 146h3v73h-3zM810 184h9v3h-9zM822 180h9v3h-9z" fill="#000"/>
<path d="M856 142h3v61h-3zM847 180h9v3h-9zM859 192h9v3h-9z" fill="#000"/>
<path d="M893 181h3v51h-3zM884 191h9v3h-9zM896 227h9v3h-9z" fill="#000"/>
<path d="M930 205h3v78h-3zM921 228h9v3h-9zM933 267h9v3h-9z" fill="#000"/>
<path d="M967 235h3v71h-3zM958 266h9v3h-9zM970 237h9v3h-9z" fill="#000"/>
<path d="M1004 193h3v114h-3zM995 236h9v3h-9zM1007 233h9v3h-9z" fill="#808080"/>
<path d="M1041 101h3v146h-3zM1032 233h9v3h-9zM1044 118h9v3h-9z" fill="#000"/>
<path d="M1078 74h3v197h-3zM1069 119h9v3h-9zM1081 265h9v3h-9z" fill="#808080"/>
<path d="M1115 254h3v160h-3zM1106 267h9v3h-9zM1118 356h9v3h-9z" fill="#000"/>
</g>
<rect x="227" y="317" width="3" height="4" fill="#00ff00"/>
<rect x="635" y="72" width="592" height="1" fill="#ff0000"/>
<rect x="635" y="140" width="592" height="1" fill="#ff0000"/>
<rect x="635" y="183" width="592" height="1" fill="#c00000"/>
<rect x="635" y="208" width="592" height="1" fill="#ff0000"/>
<rect x="635" y="241" width="592" height="1" fill="#ff0000"/>
<rect x="635" y="276" width="592" height="1" fill="#ff0000"/>
<rect x="1079" y="161" width="74" height="1" fill="#ff0000"/>
<rect x="1079" y="212" width="74" height="1" fill="#ff0000"/>
<rect x="1079" y="244" width="74" height="1" fill="#c00000"/>
<rect x="1079" y="262" width="74" height="1" fill="#ff0000"/>
<rect x="1079" y="286" width="74" height="1" fill="#ff0000"/>
<rect x="1079" y="312" width="74" height="1" fill="#ff0000"/>
<rect x="1042" y="417" width="296" height="1" fill="#0000ff"/>
<rect x="1042" y="450" width="296" height="1" fill="#0000ff"/>
<rect x="1042" y="498" width="296" height="1" fill="#0000ff"/>
<rect x="1042" y="531" width="296" height="1" fill="#0000ff"/>
<rect x="1042" y="426" width="296" height="1" fill="#0000ff"/>
<rect x="1042" y="480" width="296" height="1" fill="#0000ff"/>
<text x="1230" y="77" font-size="15" fill="#ff0000" font-weight="bold" text-anchor="start" letter-spacing="-0.33">1.2665</text>
<text x="1230" y="145" font-size="15" fill="#ff0000" font-weight="bold" text-anchor="start" letter-spacing="-0.33">1.2600</text>
<text x="1230" y="188" font-size="15" fill="#c00000" font-weight="bold" text-anchor="start" letter-spacing="-0.33">1.2559</text>
<text x="1230" y="213" font-size="15" fill="#ff0000" font-weight="bold" text-anchor="start" letter-spacing="-0.33">1.2535</text>
<text x="1230" y="246" font-size="15" fill="#ff0000" font-weight="bold" text-anchor="start" letter-spacing="-0.33">1.2505</text>
<text x="1230" y="281" font-size="15" fill="#ff0000" font-weight="bold" text-anchor="start" letter-spacing="-0.33">1.2471</text>
<text x="1156" y="166" font-size="15" fill="#ff0000" font-weight="bold" text-anchor="start" letter-spacing="-0.33">1.2580</text>
<text x="1156" y="217" font-size="15" fill="#ff0000" font-weight="bold" text-anchor="start" letter-spacing="-0.33">1.2532</text>
<text x="1156" y="249" font-size="15" fill="#c00000" font-weight="bold" text-anchor="start" letter-spacing="-0.33">1.2502</text>
<text x="1156" y="267" font-size="15" fill="#ff0000" font-weight="bold" text-anchor="start" letter-spacing="-0.33">1.2484</text>
<text x="1156" y="291" font-size="15" fill="#ff0000" font-weight="bold" text-anchor="start" letter-spacing="-0.33">1.2462</text>
<text x="1156" y="317" font-size="15" fill="#ff0000" font-weight="bold" text-anchor="start" letter-spacing="-0.33">1.2437</text>
<text x="1042" y="423" font-size="16" fill="#0000ff" font-weight="bold" text-anchor="end" >1.2337</text>
<text x="1042" y="456" font-size="16" fill="#0000ff" font-weight="bold" text-anchor="end" >1.2306</text>
<text x="1042" y="504" font-size="16" fill="#0000ff" font-weight="bold" text-anchor="end" >1.2260</text>
<text x="1042" y="537" font-size="16" fill="#0000ff" font-weight="bold" text-anchor="end" >1.2229</text>
<text x="1341" y="432" font-size="16" fill="#0000ff" font-weight="bold" text-anchor="start" >1.2329</text>
<text x="1341" y="486" font-size="16" fill="#0000ff" font-weight="bold" text-anchor="start" >1.2278</text>
<rect x="1445" y="350" width="33" height="14" fill="#000000"/>
<text x="1445.5" y="361" font-size="11" fill="#ffffff" font-weight="normal" text-anchor="start" letter-spacing="-0.2">1.2394</text>
<text x="4.2" y="550" font-size="11.1" fill="#000000" font-weight="normal" text-anchor="start" >TradeNavigator.com</text>
<rect x="0" y="552" width="1443" height="3" fill="#e0e0e0"/>
<text x="264" y="671" font-size="11" fill="#000080" font-weight="normal" text-anchor="middle" >Aug-17</text>
<text x="1115" y="671" font-size="11" fill="#000080" font-weight="normal" text-anchor="middle" >Sep-17</text>
<text x="747.5" y="17" font-size="16" fill="#000" font-weight="bold" text-anchor="middle" style="white-space:pre">$USD-CAD:  US Dollar/Canadian Dollar @ FORXNY  (Daily bars)</text>
<text x="747.3" y="34" font-size="12.75" fill="#000" font-weight="normal" text-anchor="middle" >www.TradeNavigator.com © 1999-2017</text>
<g shape-rendering="geometricPrecision">
<defs>
<linearGradient id="gv" x1="0" y1="0" x2="1" y2="0"><stop offset="0" stop-color="#c8a000"/><stop offset="0.4" stop-color="#fff060"/><stop offset="1" stop-color="#c09800"/></linearGradient>
<linearGradient id="gh" x1="0" y1="0" x2="0" y2="1"><stop offset="0" stop-color="#fff070"/><stop offset="0.45" stop-color="#e8c000"/><stop offset="0.7" stop-color="#6a5000"/><stop offset="1" stop-color="#2a2000"/></linearGradient>
<linearGradient id="ga" x1="0" y1="0" x2="0" y2="1"><stop offset="0" stop-color="#fff070"/><stop offset="0.5" stop-color="#f0cc10"/><stop offset="1" stop-color="#b08a00"/></linearGradient>
</defs>
<path d="M2.8 25.4 Q10 31 16 31.5" stroke="#2a2000" stroke-width="1.3" fill="none" opacity="0.8"/>
<path d="M5 22 Q19 31 30.5 22 L35 25 Q19 36 3.2 25.2 Z" fill="url(#ga)"/>
<path d="M21.5 8.5 L27.5 24" stroke="#5a4400" stroke-width="1.6"/>
<path d="M21.5 8.5 L27.5 24" stroke="#f0d020" stroke-width="0.9"/>
<path d="M23.5 13 L27 11.5 M24.5 17.5 L28 19.5 M23 20 L27.5 15.5" stroke="#f0d020" stroke-width="1.1"/>
<path d="M15.5 17 L10.5 23.5" stroke="#e0b800" stroke-width="1.3"/>
<path d="M11 20.5 Q19 22.5 28 19.5" stroke="#f0d030" stroke-width="0.9" fill="none"/>
<rect x="4" y="12" width="11.6" height="4.7" rx="1.2" fill="url(#gh)"/>
<path d="M16 5.5 L21.3 5.5 L21.6 26 L15.7 26 Z" fill="url(#gv)"/>
<path d="M21.6 6 L23.5 6.3 M22 8.5 L24 8.7" stroke="#2a2000" stroke-width="0.9"/>
<path d="M15.3 6.2 Q15.5 2.8 19 2.6 Q22.5 2.8 22.8 6.2 Z" fill="#f4d830"/>
<path d="M14.5 25 L23 25 L22.8 34.3 L14.8 34.3 Z" fill="url(#gv)"/>
<path d="M16 30 L21.5 30" stroke="#fff8b0" stroke-width="0.8"/>
<path d="M22.5 33.4 L26 33.4 M26.2 31.8 L26.2 34.8" stroke="#e0b800" stroke-width="1.3"/>
</g>
</svg>
</body></html>
